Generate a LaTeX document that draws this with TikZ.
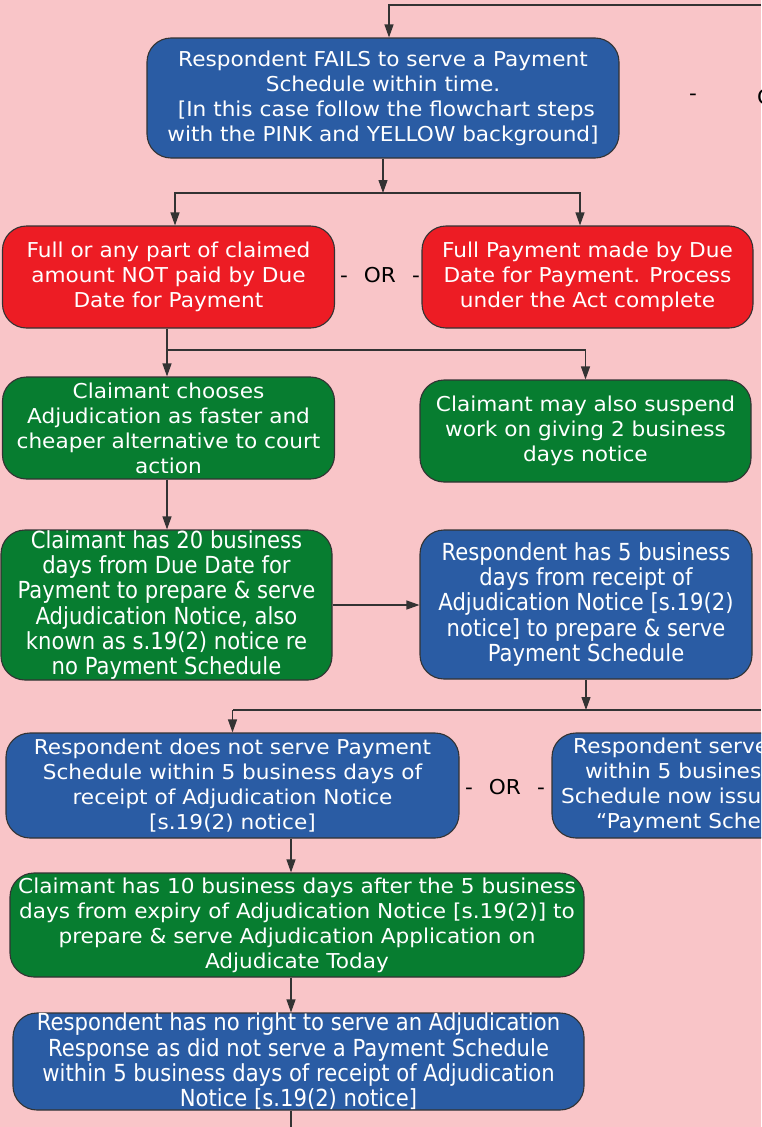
\documentclass[tikz,border=0pt]{standalone}
\usepackage{fontspec}
\setmainfont[FakeStretch=1.055]{DejaVu Sans}
\newfontfamily\condfont[FakeStretch=0.9]{DejaVu Sans}
\usetikzlibrary{arrows.meta}
\definecolor{bgpink}{HTML}{F9C5C8}
\definecolor{boxblue}{HTML}{2A5CA4}
\definecolor{boxred}{HTML}{ED1C24}
\definecolor{boxgreen}{HTML}{077D30}
\definecolor{edge}{HTML}{333333}
\tikzset{
  box/.style={draw=edge, line width=1.1pt, rounded corners=24pt, text=white, align=center, inner sep=0pt,
    font=\fontsize{20.5}{25}\selectfont},
  condbox/.style={box, font=\condfont\fontsize{23.5}{25.3}\selectfont},
  bluebox/.style={fill=boxblue},
  redbox/.style={fill=boxred},
  greenbox/.style={fill=boxgreen},
  conn/.style={draw=edge, line width=1.2pt},
  arr/.style={conn, -{Triangle[length=13pt,width=9pt]}},
  ortext/.style={font=\fontsize{20.5}{25}\selectfont, text=black, inner sep=0pt}
}
\begin{document}
\begin{tikzpicture}[x=1pt,y=-1pt]
\fill[bgpink] (0,0) rectangle (761,1127);
\useasboundingbox (0,0) rectangle (761,1127);
\clip (0,0) rectangle (761,1127);

% nodes
\node[box,bluebox,minimum width=472pt,minimum height=120pt] (top) at (383,98)
  {Respondent FAILS to serve a Payment\\Schedule within time.\\{} [In this case follow the flowchart steps\\with the PINK and YELLOW background]};
\node[box,redbox,minimum width=332pt,minimum height=102pt] (redL) at (168.5,277)
  {Full or any part of claimed\\amount NOT paid by Due\\Date for Payment};
\node[box,redbox,minimum width=331pt,minimum height=102pt] (redR) at (587.5,277)
  {Full Payment made by Due\\Date for Payment. Process\\under the Act complete};
\node[box,greenbox,minimum width=332pt,minimum height=102pt] (grnL) at (168.5,428)
  {Claimant chooses\\Adjudication as faster and\\cheaper alternative to court\\action};
\node[box,greenbox,minimum width=331pt,minimum height=102pt] (grnR) at (585.5,431)
  {Claimant may also suspend\\work on giving 2 business\\days notice};
\node[condbox,greenbox,minimum width=331pt,minimum height=150pt] (grn2) at (166.5,605)
  {Claimant has 20 business\\days from Due Date for\\Payment to prepare \& serve\\Adjudication Notice, also\\known as s.19(2) notice re\\no Payment Schedule};
\node[condbox,bluebox,minimum width=332pt,minimum height=149pt] (blu2) at (586,604.5)
  {Respondent has 5 business\\days from receipt of\\Adjudication Notice [s.19(2)\\notice] to prepare \& serve\\Payment Schedule};
\node[box,bluebox,minimum width=453pt,minimum height=105pt] (blu3) at (232.5,785.5)
  {Respondent does not serve Payment\\Schedule within 5 business days of\\receipt of Adjudication Notice\\{}[s.19(2) notice]};
\node[box,bluebox,minimum width=420pt,minimum height=105pt] (blu3R) at (762,785.5) {};
\node[ortext,anchor=base west,text=white] (r1) at (573,753) {Respondent serves};
\node[ortext,anchor=base west,text=white] (r2) at (585,778) {within 5 business};
\node[ortext,anchor=base west,text=white] (r3) at (561,803) {Schedule now issued};
\node[ortext,anchor=base west,text=white] (r4) at (596,828) {“Payment Schedule};
\node[box,greenbox,minimum width=574pt,minimum height=104pt] (grn3) at (297,925)
  {Claimant has 10 business days after the 5 business\\days from expiry of Adjudication Notice [s.19(2)] to\\prepare \& serve Adjudication Application on\\Adjudicate Today};
\node[condbox,bluebox,minimum width=571pt,minimum height=97pt] (blu4) at (298.5,1061.5)
  {Respondent has no right to serve an Adjudication\\Response as did not serve a Payment Schedule\\within 5 business days of receipt of Adjudication\\Notice [s.19(2) notice]};

% OR labels
\node[ortext] (or1) at (380,275) {-\hspace{16pt}OR\hspace{16pt}-};
\node[ortext] (or2) at (505,787) {-\hspace{16pt}OR\hspace{16pt}-};
\node[ortext] (dash3) at (693,97) {-};
\node[ortext,anchor=west] (or3) at (757,97) {O};

% connectors
\coordinate (topin) at (761,5);
\coordinate (s1) at (383,193);
\coordinate (c167) at (167,0);
\coordinate (b1) at (167,350);
\coordinate (s2) at (586,710);
\coordinate (s2L) at (232.5,710);
\coordinate (s2R) at (761,710);
\coordinate (h605) at (0,605);
\coordinate (c291) at (291,0);
\coordinate (bot) at (291,1127);

\draw[arr] (topin) -| ([xshift=6pt]top.north);
\draw[arr] (top.south) -- (s1);
\draw[arr] (s1) -| ([xshift=6.5pt]redL.north);
\draw[arr] (s1) -| ([xshift=-7.5pt]redR.north);
\draw[arr] (redL.south -| c167) -- (grnL.north -| c167);
\draw[arr] (b1) -| (grnR.north);
\draw[arr] (grnL.south -| c167) -- (grn2.north -| c167);
\draw[arr] (grn2.east |- h605) -- (blu2.west |- h605);
\draw[arr] (blu2.south) -- (s2);
\draw[conn] (s2R) -- (s2L);
\draw[arr] (s2L) -- (blu3.north);
\draw[arr] (blu3.south -| c291) -- (grn3.north -| c291);
\draw[arr] (grn3.south -| c291) -- (blu4.north -| c291);
\draw[conn] (blu4.south -| c291) -- (bot);
\end{tikzpicture}
\end{document}
